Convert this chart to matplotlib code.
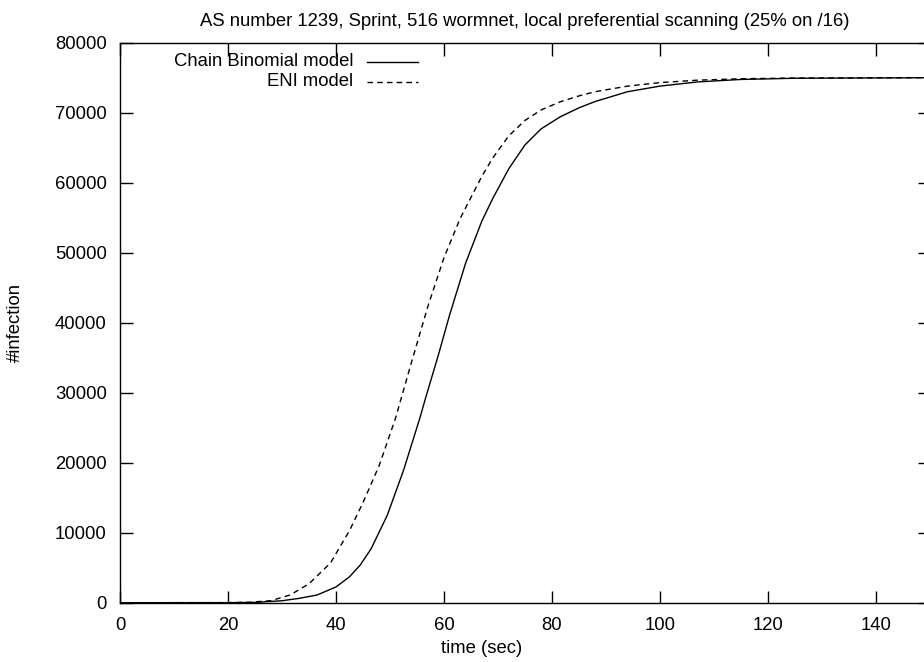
import matplotlib
matplotlib.use("Agg")
import matplotlib.pyplot as plt

plt.rcParams['font.family'] = ['Liberation Sans', 'DejaVu Sans']

title = "AS number 1239, Sprint, 516 wormnet, local preferential scanning (25% on /16)"
series_names = ["Chain Binomial model", "ENI model"]

# Chain Binomial model (solid)
cb_time = [0, 20, 25, 30, 33, 36.5, 40, 42.5, 44.5, 46.5, 49.5, 52.5, 55.5, 56.5, 59,
           61, 64, 67, 69, 72, 75, 78, 81.5, 85, 88, 94, 100, 107, 115, 125, 150]
cb_inf = [0, 5, 40, 280, 600, 1100, 2250, 3700, 5400, 7700, 12500, 18900, 26300, 29000,
          35500, 41000, 48500, 54500, 57700, 62000, 65400, 67700, 69400, 70700, 71600,
          73000, 73800, 74400, 74750, 74920, 75000]

# ENI model (dashed)
eni_time = [0, 20, 24, 28, 31.5, 35, 39, 42.5, 45, 48, 51, 52, 54, 57, 60, 63, 65, 67,
            69, 72, 75, 78, 81.5, 85, 88, 94, 100, 107, 115, 125, 150]
eni_inf = [0, 10, 60, 300, 1100, 2700, 5700, 10300, 14300, 19600, 26300, 29000, 34400,
           42300, 49300, 54900, 57900, 60900, 63500, 66700, 68900, 70400, 71550, 72400,
           73000, 73800, 74300, 74650, 74850, 74950, 75000]

FS = 13.3

fig = plt.figure(figsize=(9.24, 6.62), dpi=100)
# the plot box runs a few pixels past the right edge of the picture
ax = fig.add_axes([120 / 924, 1 - 602.7 / 662, 810 / 924, 560 / 662])

ax.plot(cb_time, cb_inf, color='black', lw=1.0, ls='-')
ax.plot(eni_time, eni_inf, color='black', lw=1.0, ls=(0, (4, 3)))

ax.set_xlim(0, 150)
ax.set_ylim(0, 80000)
ax.set_xticks(range(0, 141, 20))
ax.set_yticks(range(0, 80001, 10000))
ax.tick_params(direction='in', length=9, width=1, top=True, right=True,
               labelsize=FS)
ax.tick_params(axis='x', pad=10)
ax.tick_params(axis='y', pad=9.5)
for sp in ax.spines.values():
    sp.set_linewidth(1.0)

ax.set_title(title, fontsize=FS, pad=12)
ax.set_xlabel("time (sec)", fontsize=FS)
ax.xaxis.set_label_coords(0.446, -0.067)
ax.set_ylabel("#infection", fontsize=FS)
ax.yaxis.set_label_coords(-0.1185, 0.5)

# gnuplot style key: right aligned text, then the line sample
styles = ['-', (0, (4, 3))]
for i, (name, st) in enumerate(zip(series_names, styles)):
    y = 1 - (19 + 20 * i) / 560
    ax.text(0.2877, y, name, transform=ax.transAxes, ha='right', va='center',
            fontsize=FS)
    ax.plot([0.305, 0.368], [y, y], transform=ax.transAxes, color='black',
            lw=1.0, ls=st, clip_on=False)

fig.savefig("out.png", dpi=100)
